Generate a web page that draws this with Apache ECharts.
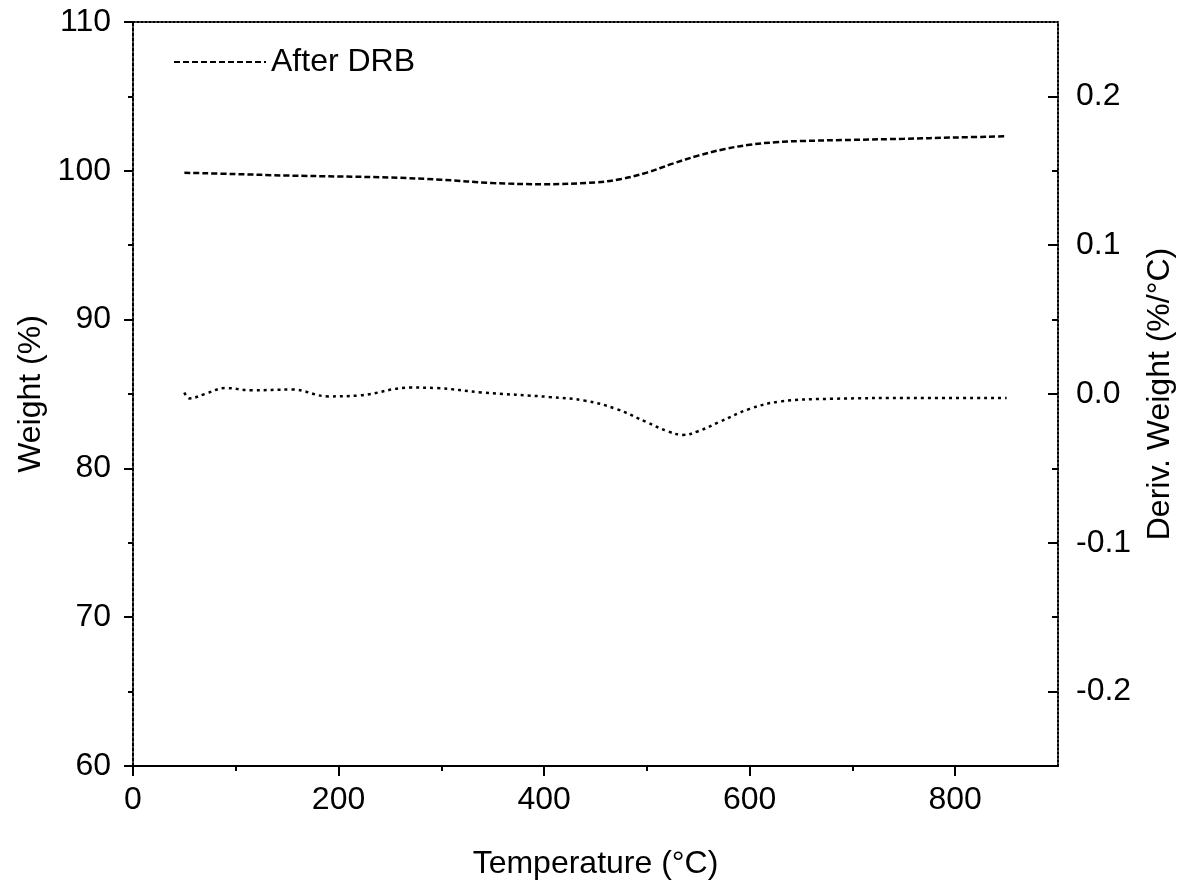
<!DOCTYPE html>
<html>
<head>
<meta charset="utf-8">
<script src="https://cdn.jsdelivr.net/npm/echarts@6/dist/echarts.min.js"></script>
<style>html,body{margin:0;padding:0;background:#fff;overflow:hidden}#c{width:1182px;height:888px}</style>
</head>
<body>
<div id="c"></div>
<script>
// ---- data ----
const weightTemps  = [50, 100, 150, 200, 250, 300, 350, 400, 450, 475, 500, 525, 550, 575, 600, 625, 650, 700, 750, 800, 850];
const weightValues = [99.87, 99.78, 99.68, 99.62, 99.55, 99.40, 99.18, 99.10, 99.22, 99.45, 99.88, 100.48, 101.02, 101.45, 101.75, 101.92, 102.0, 102.08, 102.15, 102.24, 102.32];

const derivTemps  = [50, 55, 70, 90, 115, 155, 190, 220, 270, 295, 340, 405, 440, 470, 500, 520, 535, 550, 570, 600, 630, 680, 760, 850];
const derivValues = [0.001, -0.003, 0.0, 0.004, 0.0025, 0.003, -0.0016, -0.001, 0.0043, 0.004, 0.001, -0.002, -0.0045, -0.010, -0.019, -0.025, -0.0275, -0.025, -0.019, -0.010, -0.005, -0.0032, -0.0027, -0.0027];

const xMajor = [0, 200, 400, 600, 800];
const xMinor = [100, 300, 500, 700];
const rightMajor = [-0.2, -0.1, 0.0, 0.1, 0.2];
const rightMinor = [-0.15, -0.05, 0.05, 0.15];

const seriesName = 'After DRB';
const xName = 'Temperature (°C)';
const yLeftName = 'Weight (%)';
const yRightName = 'Deriv. Weight (%/°C)';

// ---- chart ----
const FONT = "'Liberation Sans Narrow', 'Arial Narrow', 'Liberation Sans', Arial, sans-serif";
const FS = 32;
const txt = {fontFamily: FONT, fontSize: FS, color: '#000'};
const chart = echarts.init(document.getElementById('c'), null, {renderer: 'canvas'});

const zip = (a, b) => a.map((v, i) => [v, b[i]]);
const blk = {color: '#000', width: 2};

chart.setOption({
  animation: false,
  backgroundColor: '#fff',
  grid: {left: 133, right: 124, top: 22, bottom: 122, containLabel: false, outerBoundsMode: 'none'},
  legend: {
    data: [seriesName],
    left: 168, top: 41,
    itemWidth: 92, itemHeight: 14,
    itemStyle: {opacity: 0},
    textStyle: Object.assign({}, txt),
    selectedMode: false
  },
  xAxis: [{
    type: 'value', min: 0, max: 900,
    name: xName, nameLocation: 'middle', nameGap: 82, nameTextStyle: txt,
    axisLine: {show: true, onZero: false, lineStyle: blk},
    axisTick: {show: true, length: 10, customValues: xMajor, lineStyle: blk},
    axisLabel: Object.assign({margin: 18, customValues: xMajor}, txt),
    splitLine: {show: false}
  }, {
    type: 'value', min: 0, max: 900, position: 'bottom',
    axisLine: {show: false, onZero: false},
    axisTick: {show: true, length: 5, customValues: xMinor, lineStyle: blk},
    axisLabel: {show: false}, splitLine: {show: false}
  }, {
    type: 'value', min: 0, max: 900, position: 'top',
    axisLine: {show: true, onZero: false, lineStyle: {color: '#000', width: 2, type: [2, 2]}},
    axisTick: {show: false}, axisLabel: {show: false}, splitLine: {show: false}
  }],
  yAxis: [{
    type: 'value', min: 60, max: 110, interval: 10, position: 'left',
    name: yLeftName, nameLocation: 'middle', nameGap: 86, nameTextStyle: txt,
    axisLine: {show: true, onZero: false, lineStyle: {color: '#000', width: 2, type: [3, 2]}},
    axisTick: {show: true, length: 9, lineStyle: blk},
    minorTick: {show: true, splitNumber: 2, length: 5, lineStyle: blk},
    axisLabel: Object.assign({margin: 22}, txt),
    splitLine: {show: false}
  }, {
    type: 'value', min: -0.25, max: 0.25, position: 'right',
    name: yRightName, nameLocation: 'middle', nameGap: 86, nameTextStyle: txt,
    axisLine: {show: true, onZero: false, lineStyle: {color: '#000', width: 2, type: [2, 2]}},
    axisTick: {show: true, inside: true, length: 10, customValues: rightMajor, lineStyle: blk},
    axisLabel: Object.assign({margin: 18, customValues: rightMajor, formatter: v => (Math.abs(v) < 1e-9 ? 0 : v).toFixed(1)}, txt),
    splitLine: {show: false}
  }, {
    type: 'value', min: -0.25, max: 0.25, position: 'right',
    axisLine: {show: false, onZero: false},
    axisTick: {show: true, inside: true, length: 6, customValues: rightMinor, lineStyle: blk},
    axisLabel: {show: false}, splitLine: {show: false}
  }],
  series: [{
    name: seriesName, type: 'line', xAxisIndex: 0, yAxisIndex: 0,
    data: zip(weightTemps, weightValues), smooth: 0.4, symbol: 'none',
    lineStyle: {color: '#000', width: 2.5, type: [6, 3]}, itemStyle: {color: '#000'}
  }, {
    name: 'deriv', type: 'line', xAxisIndex: 0, yAxisIndex: 1,
    data: zip(derivTemps, derivValues), smooth: 0.4, symbol: 'none',
    lineStyle: {color: '#000', width: 2.5, type: [3, 4]}, itemStyle: {color: '#000'}
  }]
});
</script>
</body>
</html>
